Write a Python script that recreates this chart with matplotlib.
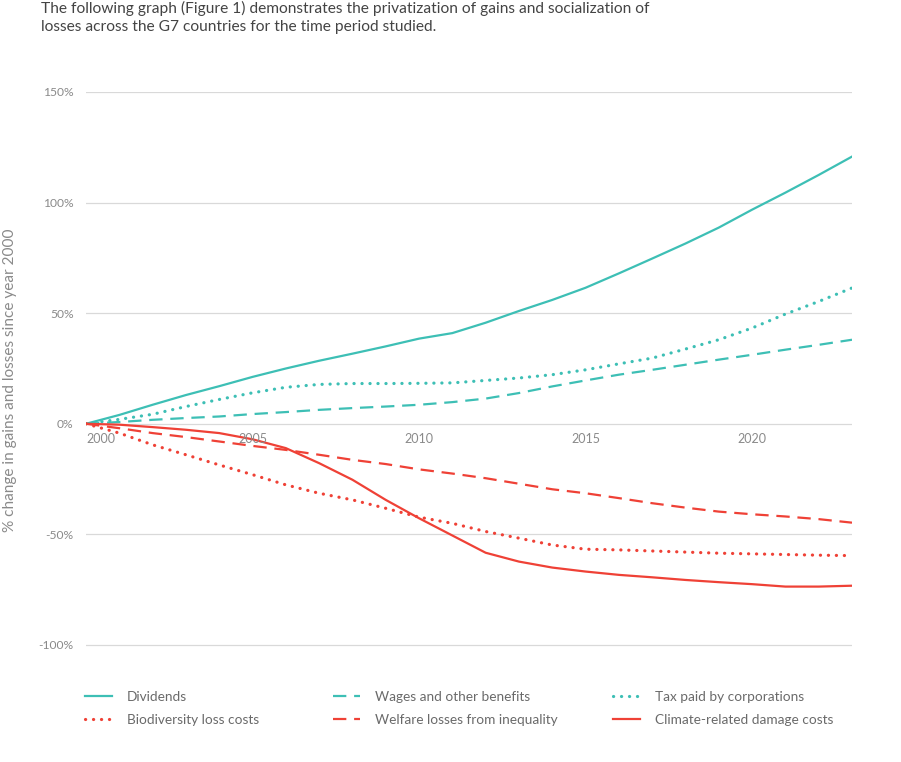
import matplotlib
matplotlib.use("Agg")
import matplotlib.pyplot as plt
from matplotlib.lines import Line2D

plt.rcParams['font.family'] = ['Lato', 'DejaVu Sans']

# years 2000..2023
years = list(range(2000, 2024))

dividends = [0, 4, 8.6, 13, 17, 21.2, 25, 28.5, 31.7, 35, 38.5, 41, 45.7, 51, 56,
             61.5, 68, 74.7, 81.5, 88.7, 96.8, 104.5, 112.5, 120.8]
wages = [0, 0.8, 1.8, 2.6, 3.3, 4.4, 5.3, 6.3, 7.1, 7.8, 8.6, 9.8, 11.4, 13.9, 16.9,
         19.6, 22.2, 24.4, 26.7, 29, 31.2, 33.5, 35.7, 38]
tax = [0, 2, 4.3, 7.8, 11, 14, 16.5, 17.8, 18.2, 18.2, 18.3, 18.5, 19.6, 20.7, 22.2,
       24.4, 27.1, 29.7, 33.8, 38, 43.3, 49.6, 55.3, 61.4]
biodiversity = [0, -4.2, -9.5, -14, -18.6, -23, -27.6, -31.4, -34.4, -38.2, -42.2, -45,
                -48.7, -51.7, -54.8, -56.7, -57, -57.5, -58, -58.5, -58.8, -59.1, -59.4, -59.6]
welfare = [0, -2, -4.2, -6, -8, -10, -11.8, -14, -16.3, -18.2, -20.6, -22.5, -24.6,
           -27.1, -29.6, -31.4, -33.6, -35.9, -37.9, -39.7, -40.9, -41.9, -43.1, -44.7]
climate = [0, -0.4, -1.5, -2.7, -4.2, -7, -11, -17.8, -25.3, -34.4, -42.7, -50.5, -58.3,
           -62.3, -65, -66.8, -68.3, -69.4, -70.6, -71.6, -72.5, -73.6, -73.6, -73.2]

yticks = [-100, -50, 0, 50, 100, 150]
xticks = [2000, 2005, 2010, 2015, 2020]

teal = '#3dbfb5'
red = '#ef4136'
dot = (0, (0.05, 2.45))
dash = (0, (6, 3.5))


def style(ls):
    # dotted lines are drawn thicker with round caps so they read as dots
    if ls == dot:
        return dict(lw=2.3, dash_capstyle='round')
    return dict(lw=1.6, dash_capstyle='butt')


fig = plt.figure(figsize=(9.01, 7.62), dpi=100)
# y: 150 -> 92px, -101 -> ~647px
ax = fig.add_axes([86 / 901, 1 - 647.2 / 762, 766 / 901, 555.2 / 762])

series = [
    (dividends, teal, '-', 'Dividends'),
    (wages, teal, dash, 'Wages and other benefits'),
    (tax, teal, dot, 'Tax paid by corporations'),
    (biodiversity, red, dot, 'Biodiversity loss costs'),
    (welfare, red, dash, 'Welfare losses from inequality'),
    (climate, red, '-', 'Climate-related damage costs'),
]
for vals, c, ls, lab in series:
    ax.plot(years, vals, color=c, ls=ls, label=lab, zorder=3, **style(ls))

ax.set_xlim(2000, 2023)
ax.set_ylim(-101, 150)
ax.set_yticks(yticks)
ax.set_yticklabels([f'{v}%' for v in yticks])
ax.grid(axis='y', color='#d9d9d9', lw=0.9)
ax.set_xticks([])
for s in ax.spines.values():
    s.set_visible(False)
ax.tick_params(axis='y', length=0, pad=9, labelsize=8.7, labelcolor='#8a8a8a')

# x labels sit just under the zero line
for i, yr in enumerate(xticks):
    ax.text(yr, -4, str(yr), ha='left' if i == 0 else 'center', va='top',
            fontsize=9, color='#8a8a8a')

fig.text(10 / 901, 1 - 380 / 762, '% change in gains and losses since year 2000',
         rotation=90, ha='center', va='center', fontsize=11.1, color='#8a8a8a')

fig.text(41 / 901, 1 - 8 / 762, 'The following graph (Figure 1) demonstrates the privatization of gains and socialization of',
         ha='left', va='center', fontsize=11.2, color='#444444')
fig.text(41 / 901, 1 - 27 / 762, 'losses across the G7 countries for the time period studied.',
         ha='left', va='center', fontsize=11.2, color='#444444')

# legend: three columns, two rows
cols = [(series[0], series[3]), (series[1], series[4]), (series[2], series[5])]
col_x = [85, 333, 613]
for (a, b), cx in zip(cols, col_x):
    handles = [Line2D([], [], color=s[1], ls=s[2], **style(s[2])) for s in (a, b)]
    fig.legend(handles, [a[3], b[3]], loc='upper left',
               bbox_to_anchor=(cx / 901, 1 - 691 / 762), frameon=False,
               fontsize=9.8, labelcolor='#6a6a6a', handlelength=2.0,
               handletextpad=1.1, labelspacing=0.8, borderaxespad=0,
               borderpad=0)

fig.savefig('out.png', dpi=100)
